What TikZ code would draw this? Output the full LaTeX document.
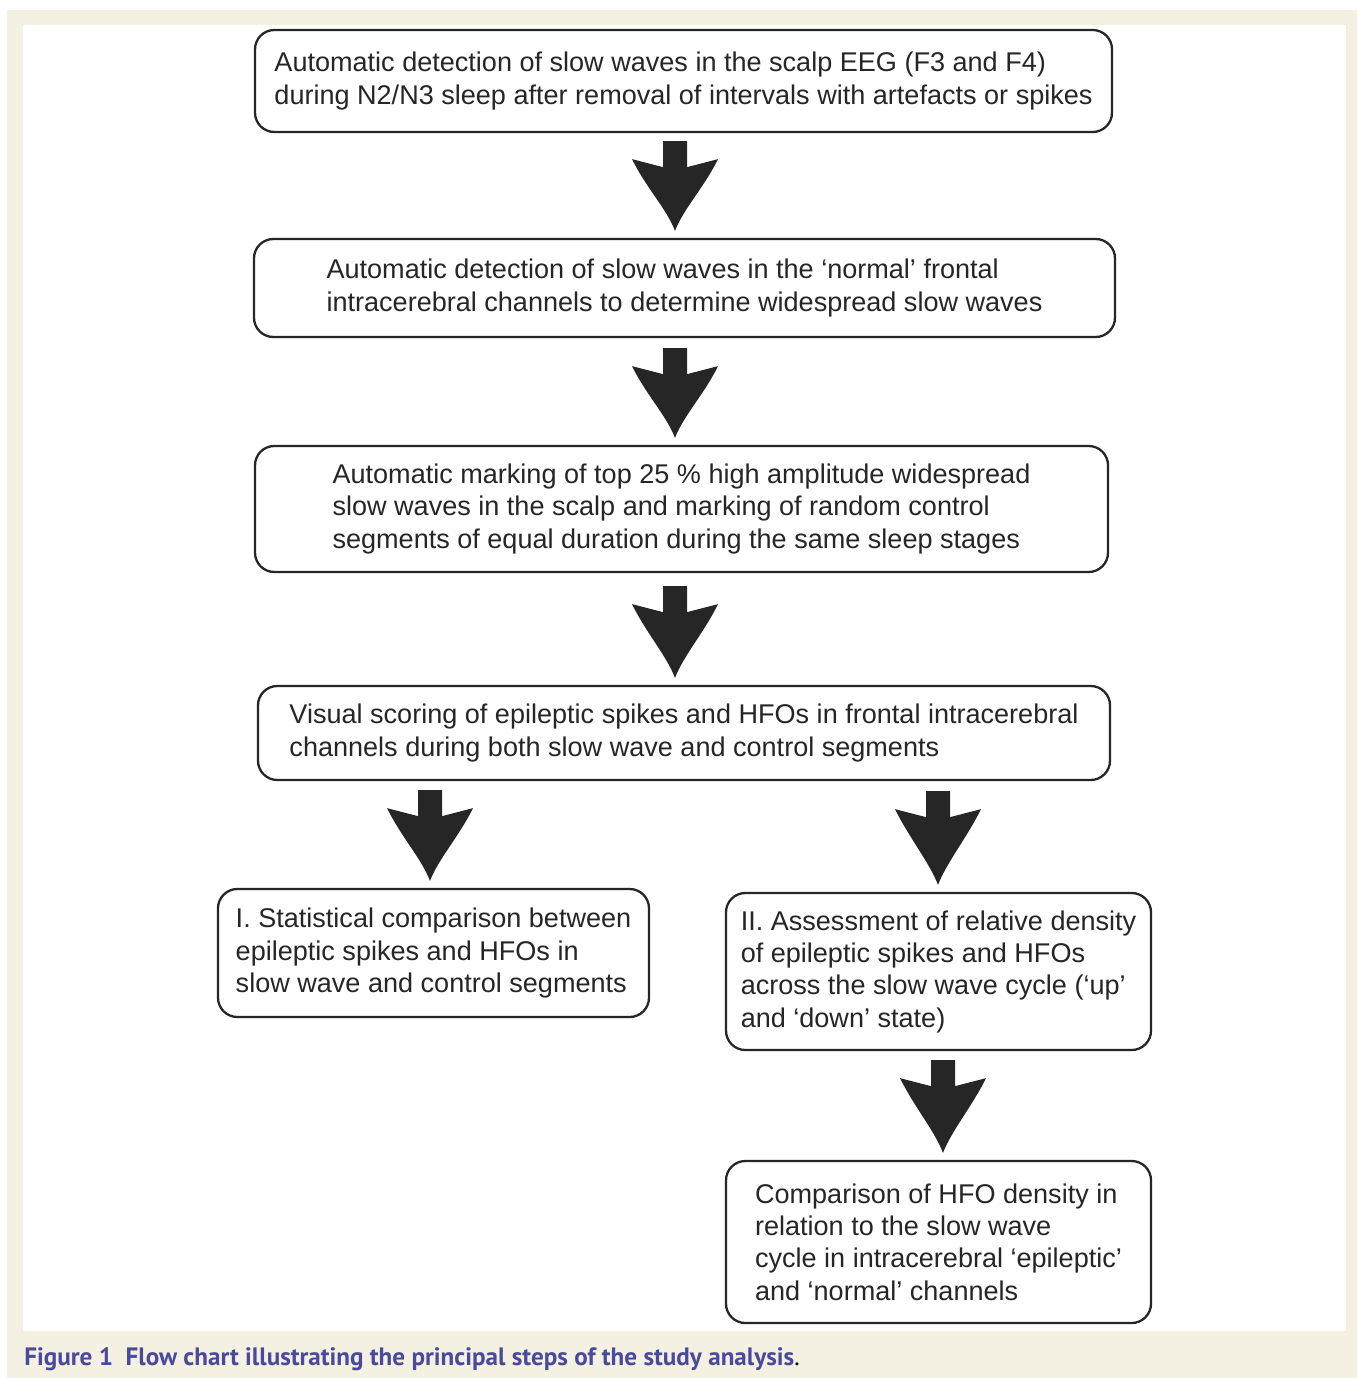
\documentclass[tikz,border=0pt]{standalone}
\usepackage{fontspec}
\setmainfont{Liberation Sans}
\newfontfamily\capfont{PT Sans}
\usepackage{xcolor}
\usepackage{tikz}
\usetikzlibrary{calc}

\definecolor{paper}{HTML}{F4F0E2}
\definecolor{capblue}{HTML}{4A4A9C}
\definecolor{inkgray}{HTML}{262626}

\tikzset{
  stepbox/.style={draw=inkgray, line width=1.3pt, rounded corners=11pt, align=left,
    text=inkgray, font=\fontsize{15.4}{18.4}\selectfont},
}

% block arrow from a start point down to the box below
\newcommand{\bigarrow}[2]{%
  \fill[inkgray] ($(#1)+(-12,0)$) -- ($(#1)+(12,0)$) -- ($(#1)+(12,26)$) -- ($(#1)+(43,18)$)
    .. controls ($(#1)+(28,48)$) and ($(#1 |- #2.north)+(9,-30)$) .. ($(#1 |- #2.north)+(0,-7)$)
    .. controls ($(#1 |- #2.north)+(-9,-30)$) and ($(#1)+(-28,48)$) .. ($(#1)+(-43,18)$)
    -- ($(#1)+(-12,26)$) -- cycle;
}

\begin{document}
\begin{tikzpicture}[x=0.02cm, y=-0.02cm]
  \useasboundingbox (0,0) rectangle (1357,1378);
  \fill[paper] (7,10) rectangle (1357,1378);
  \fill[white] (23,25) rectangle (1346,1331);

  \node[stepbox, minimum width=857*0.02cm, minimum height=102*0.02cm] (b1) at (683.5,81)
    {Automatic detection of slow waves in the scalp EEG (F3 and F4)\\
     during N2/N3 sleep after removal of intervals with artefacts or spikes};
  \node[stepbox, minimum width=861*0.02cm, minimum height=98*0.02cm] (b2) at (684.5,288)
    {Automatic detection of slow waves in the `normal' frontal\\
     intracerebral channels to determine widespread slow waves};
  \node[stepbox, minimum width=853*0.02cm, minimum height=126*0.02cm] (b3) at (681.5,509)
    {Automatic marking of top 25 \% high amplitude widespread\\
     slow waves in the scalp and marking of random control\\
     segments of equal duration during the same sleep stages};
  \node[stepbox, minimum width=852*0.02cm, minimum height=94*0.02cm] (b4) at (684,733)
    {Visual scoring of epileptic spikes and HFOs in frontal intracerebral\\
     channels during both slow wave and control segments};
  \node[stepbox, minimum width=431*0.02cm, minimum height=128*0.02cm] (b5) at (433.5,953)
    {I. Statistical comparison between\\
     epileptic spikes and HFOs in\\
     slow wave and control segments};
  \node[stepbox, minimum width=425*0.02cm, minimum height=157*0.02cm] (b6) at (938.5,971.5)
    {II. Assessment of relative density\\
     of epileptic spikes and HFOs\\
     across the slow wave cycle (`up'\\
     and `down' state)};
  \node[stepbox, minimum width=425*0.02cm, minimum height=162*0.02cm] (b7) at (938.5,1242)
    {Comparison of HFO density in\\
     relation to the slow wave\\
     cycle in intracerebral `epileptic'\\
     and `normal' channels};

  \coordinate (a1) at ($(b1.south)+(-8.5,8)$);
  \coordinate (a2) at ($(b2.south)+(-9.5,10)$);
  \coordinate (a3) at ($(b3.south)+(-6.5,13)$);
  \coordinate (a4) at ($(b4.south)+(-254,9)$);
  \coordinate (a5) at ($(b4.south)+(254,10)$);
  \coordinate (a6) at ($(b6.south)+(4.5,9)$);
  \bigarrow{a1}{b2}
  \bigarrow{a2}{b3}
  \bigarrow{a3}{b4}
  \bigarrow{a4}{b5}
  \bigarrow{a5}{b6}
  \bigarrow{a6}{b7}

  \node[anchor=west, inner sep=0pt, font=\capfont\fontsize{14.3}{17}\selectfont] (cap) at (24,1359)
    {\textcolor{capblue}{\bfseries Figure 1\enspace Flow chart illustrating the principal steps of the study analysis}.};
\end{tikzpicture}
\end{document}
